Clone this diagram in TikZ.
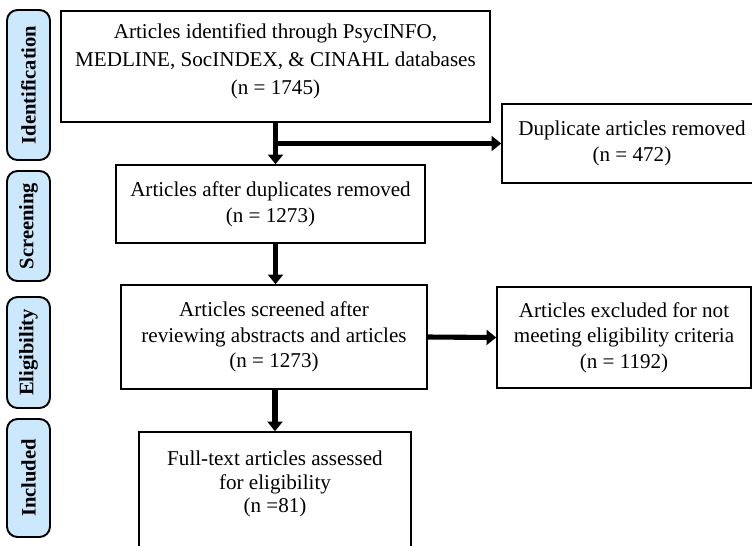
\documentclass[tikz,border=0pt]{standalone}
\usepackage{fontspec}
\setmainfont{Liberation Serif}
\usetikzlibrary{arrows.meta}
\definecolor{stagefill}{RGB}{204,232,252}

\begin{document}
\begin{tikzpicture}[
    box/.style={draw=black, line width=0.9pt, align=center, font=\fontsize{12}{14.6}\selectfont, inner sep=2pt},
    boxtext/.style={align=center, font=\fontsize{12}{13.6}\selectfont, inner sep=0pt},
    stage/.style={draw=black, line width=1.1pt, rounded corners=6pt, fill=stagefill, rotate=90, minimum height=0.86cm, font=\fontsize{11.7}{14}\selectfont\bfseries},
    flow/.style={line width=2.9pt, -{Triangle[length=5.5pt,width=8.5pt]}}
]
        % Fix the page size
        \useasboundingbox (0,0) rectangle (15.04,-10.9);

        % Stage labels on the left
        \node[stage, minimum width=3.0cm]  (Ident)  at (0.57,-1.70) {Identification};
        \node[stage, minimum width=2.2cm]  (Screen) at (0.57,-4.52) {Screening};
        \node[stage, minimum width=2.22cm] (Elig)   at (0.57,-7.05) {Eligibility};
        \node[stage, minimum width=2.36cm] (Incl)   at (0.57,-9.56) {Included};

        % Boxes of the flow
        \node[box, minimum width=8.58cm, minimum height=2.22cm, font=\fontsize{12}{15.8}\selectfont, text depth=0.3cm] (Found) at (5.51,-1.33)
            {Articles identified through PsycINFO,\\MEDLINE, SocINDEX, \& CINAHL databases\\(n = 1745)};
        \node[box, minimum width=5.2cm, minimum height=1.58cm] (Dup) at (12.64,-2.87)
            {Duplicate articles removed\\(n = 472)};
        \node[box, minimum width=6.18cm, minimum height=1.56cm] (After) at (5.41,-4.08)
            {Articles after duplicates removed\\(n = 1273)};
        \node[box, minimum width=6.12cm, minimum height=2.08cm] (Screened) at (5.48,-6.74)
            {Articles screened after\\reviewing abstracts and articles\\(n = 1273)};
        \node[box, minimum width=5.08cm, minimum height=2.02cm] (Excl) at (12.48,-6.75)
            {Articles excluded for not\\meeting eligibility criteria\\(n = 1192)};
        \node[box, minimum width=5.44cm, minimum height=2.76cm] (Full) at (5.5,-10.02) {};
        \node[boxtext] (FullText) at (5.5,-9.68)
            {Full-text articles assessed\\for eligibility\\(n =81)};

        % Arrows
        \draw[flow] (Found.south) -- (Found.south |- After.north);
        \draw[flow] (Found.south |- Dup.west) -- (Dup.west);
        \draw[flow] (After.south -| Found.south) -- (Screened.north -| Found.south);
        \draw[flow] (Screened.east) -- (Excl.west);
        \draw[flow] (Screened.south -| Full.north) -- (Full.north);

    \end{tikzpicture}
\end{document}
